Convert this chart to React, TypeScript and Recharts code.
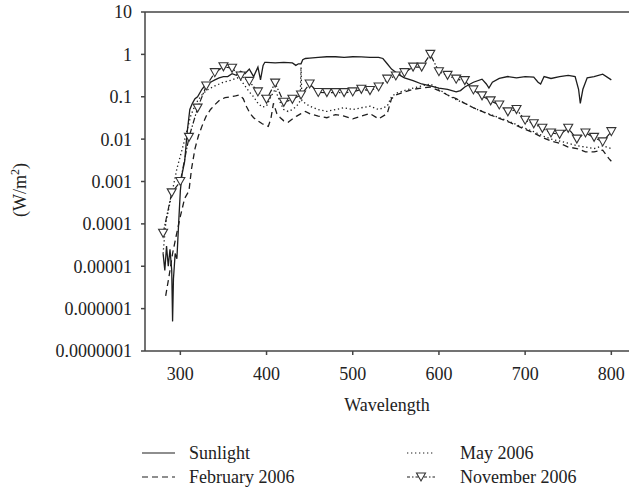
import { LineChart, Line, XAxis, YAxis, ReferenceLine } from "recharts";

// wavelengths (nm) and irradiance (W/m2)
const sunNm = [280, 282, 284, 286, 288, 290, 291, 292, 294, 296, 298, 300, 302, 305, 308, 311, 314, 317, 320, 325, 330, 335, 340, 345, 350, 355, 360, 365, 370, 375, 380, 385, 390, 393, 396, 398, 400, 410, 420, 430, 434, 437, 440, 442, 445, 450, 460, 470, 480, 490, 500, 510, 520, 530, 535, 540, 545, 550, 555, 560, 570, 580, 590, 600, 610, 620, 625, 630, 640, 650, 655, 658, 662, 670, 680, 690, 700, 710, 715, 718, 722, 730, 740, 750, 758, 762, 764, 767, 772, 780, 790, 800];
const sunW = [2e-5, 8e-6, 3e-5, 1e-5, 2.5e-5, 8e-6, 5e-7, 5e-6, 2e-5, 1.5e-5, 1e-4, 6e-4, 1.5e-3, 3e-3, 0.015, 0.05, 0.07, 0.09, 0.1, 0.15, 0.2, 0.22, 0.25, 0.28, 0.3, 0.3, 0.35, 0.32, 0.4, 0.35, 0.45, 0.3, 0.5, 0.25, 0.55, 0.65, 0.65, 0.63, 0.65, 0.63, 0.55, 0.6, 0.6, 0.75, 0.8, 0.82, 0.85, 0.88, 0.88, 0.85, 0.88, 0.87, 0.85, 0.85, 0.8, 0.6, 0.45, 0.38, 0.32, 0.28, 0.24, 0.2, 0.18, 0.16, 0.15, 0.13, 0.14, 0.17, 0.22, 0.26, 0.2, 0.16, 0.22, 0.27, 0.3, 0.28, 0.3, 0.29, 0.22, 0.2, 0.3, 0.27, 0.3, 0.32, 0.3, 0.15, 0.07, 0.15, 0.28, 0.3, 0.34, 0.25];

const febNm = [283, 287, 291, 295, 300, 305, 310, 313, 317, 321, 325, 330, 335, 340, 346, 352, 358, 364, 369, 373, 377, 381, 385, 389, 395, 402, 405, 408, 412, 416, 420, 425, 430, 435, 440, 445, 450, 460, 470, 480, 490, 500, 510, 520, 530, 540, 545, 550, 560, 570, 580, 590, 600, 610, 620, 630, 640, 650, 660, 670, 680, 690, 700, 710, 720, 730, 740, 750, 760, 770, 780, 790, 797, 800];
const febW = [2e-6, 6e-6, 2e-5, 5e-5, 1.5e-4, 4e-4, 6e-4, 2e-3, 6e-3, 0.012, 0.02, 0.035, 0.05, 0.065, 0.085, 0.095, 0.1, 0.105, 0.11, 0.09, 0.057, 0.04, 0.032, 0.028, 0.023, 0.02, 0.03, 0.07, 0.04, 0.032, 0.027, 0.025, 0.03, 0.035, 0.04, 0.045, 0.04, 0.035, 0.032, 0.038, 0.035, 0.03, 0.035, 0.04, 0.03, 0.04, 0.09, 0.11, 0.13, 0.15, 0.16, 0.17, 0.14, 0.11, 0.09, 0.07, 0.055, 0.045, 0.037, 0.031, 0.026, 0.021, 0.017, 0.014, 0.011, 0.009, 0.008, 0.0065, 0.006, 0.005, 0.005, 0.0055, 0.0035, 0.003];

const mayNm = [280, 283, 286, 290, 293, 296, 300, 304, 308, 312, 315, 320, 325, 330, 340, 350, 360, 366, 370, 375, 380, 385, 390, 395, 400, 405, 410, 415, 420, 425, 430, 435, 439, 440, 441, 445, 450, 460, 470, 480, 490, 500, 510, 520, 530, 540, 545, 550, 560, 570, 580, 590, 600, 610, 620, 630, 640, 650, 660, 670, 680, 690, 700, 710, 720, 730, 740, 750, 760, 770, 780, 790, 800];
const mayW = [2e-5, 1e-4, 2e-4, 5e-4, 1e-3, 2e-3, 4e-3, 0.008, 0.017, 0.035, 0.05, 0.08, 0.11, 0.14, 0.18, 0.22, 0.25, 0.28, 0.25, 0.18, 0.13, 0.1, 0.07, 0.057, 0.06, 0.1, 0.15, 0.08, 0.05, 0.045, 0.05, 0.06, 0.08, 0.5, 0.08, 0.07, 0.06, 0.05, 0.045, 0.05, 0.055, 0.05, 0.055, 0.06, 0.05, 0.06, 0.1, 0.12, 0.14, 0.16, 0.18, 0.2, 0.15, 0.11, 0.085, 0.07, 0.055, 0.045, 0.038, 0.032, 0.027, 0.022, 0.018, 0.015, 0.012, 0.01, 0.009, 0.008, 0.007, 0.0065, 0.006, 0.007, 0.006];

const novNm = [280, 290, 300, 310, 320, 330, 340, 350, 360, 370, 380, 390, 400, 410, 420, 430, 440, 450, 460, 470, 480, 490, 500, 510, 520, 530, 540, 550, 560, 570, 580, 590, 600, 610, 620, 630, 640, 650, 660, 670, 680, 690, 700, 710, 720, 730, 740, 750, 760, 770, 780, 790, 800];
const novW = [6e-5, 5.4e-4, 1e-3, 0.011, 0.054, 0.18, 0.37, 0.51, 0.47, 0.31, 0.23, 0.13, 0.087, 0.21, 0.074, 0.087, 0.11, 0.2, 0.126, 0.125, 0.125, 0.125, 0.13, 0.15, 0.14, 0.17, 0.26, 0.31, 0.37, 0.5, 0.5, 1.0, 0.39, 0.32, 0.26, 0.24, 0.145, 0.105, 0.08, 0.064, 0.044, 0.05, 0.028, 0.023, 0.018, 0.014, 0.013, 0.018, 0.01, 0.014, 0.011, 0.0086, 0.015];

const xTicks = [300, 400, 500, 600, 700, 800];
const yTicks = [0.0000001, 0.000001, 0.00001, 0.0001, 0.001, 0.01, 0.1, 1, 10];

const toRows = (nm: number[], w: number[]) => nm.map((x, i) => ({ nm: x, w: w[i] }));

const ink = "#1e1e1e";
const axisColor = "#444";
const font = "'Liberation Serif', serif";
const fs = 18;

const fmtY = (v: number) => (v >= 1 ? String(v) : v.toFixed(Math.round(-Math.log10(v))));

const Tri = (props: any) => {
  const { cx, cy } = props;
  if (cx == null || cy == null) return null;
  return (
    <path
      d={`M${cx - 4.5},${cy - 4} L${cx + 4.5},${cy - 4} L${cx},${cy + 4} Z`}
      fill="#fff"
      stroke="#333"
      strokeWidth={1.1}
    />
  );
};

function LegendItem({ x, y, w, dash, label, tri, gap }: { x: number; y: number; w: number; gap: number; dash?: string; label: string; tri?: boolean }) {
  return (
    <div style={{ position: "absolute", left: x, top: y, display: "flex", alignItems: "center" }}>
      <svg width={w} height={12}>
        <line x1={0} y1={6} x2={w} y2={6} stroke={ink} strokeWidth={1.2} strokeDasharray={dash} />
        {tri && <path d={`M${w / 2 - 4.5},2 L${w / 2 + 4.5},2 L${w / 2},10 Z`} fill="#fff" stroke="#333" strokeWidth={1.1} />}
      </svg>
      <span style={{ marginLeft: gap, fontFamily: font, fontSize: fs, color: "#222", lineHeight: "20px" }}>{label}</span>
    </div>
  );
}

export default function App() {
  return (
    <div style={{ position: "absolute", left: 0, top: 0, width: 629, height: 492, background: "#fff" }}>
      <LineChart width={629} height={492} margin={{ top: 12, right: 0, left: 0, bottom: 81 }}>
        <XAxis
          type="number"
          dataKey="nm"
          domain={[259, 820.5]}
          ticks={xTicks}
          allowDataOverflow
          stroke={axisColor}
          strokeWidth={1.5}
          tickSize={4}
          tickMargin={12}
          height={60}
          tick={{ fill: "#222", fontFamily: font, fontSize: fs }}
          label={{ value: "Wavelength", position: "insideBottom", offset: 0, fill: "#222", fontFamily: font, fontSize: fs }}
        />
        <YAxis
          type="number"
          dataKey="w"
          scale="log"
          domain={[0.0000001, 10]}
          ticks={yTicks}
          allowDataOverflow
          width={145}
          stroke={axisColor}
          strokeWidth={1.5}
          tickSize={4}
          tickMargin={9}
          tickFormatter={fmtY}
          tick={{ fill: "#222", fontFamily: font, fontSize: fs }}
          label={{
            content: () => (
              <text transform="rotate(-90, 26, 190)" x={26} y={190} textAnchor="middle" fontFamily={font} fontSize={fs} fill="#222">
                (W/m<tspan dy={-7} fontSize={12}>2</tspan>
                <tspan dy={7}>)</tspan>
              </text>
            ),
          }}
        />
        <ReferenceLine y={10} stroke={axisColor} strokeWidth={1.5} />
        <Line data={toRows(sunNm, sunW)} dataKey="w" stroke={ink} strokeWidth={1.3} dot={false} isAnimationActive={false} />
        <Line data={toRows(febNm, febW)} dataKey="w" stroke={ink} strokeWidth={1.3} strokeDasharray="6 4" dot={false} isAnimationActive={false} />
        <Line data={toRows(mayNm, mayW)} dataKey="w" stroke={ink} strokeWidth={1.3} strokeDasharray="1.3 2.7" dot={false} isAnimationActive={false} />
        <Line data={toRows(novNm, novW)} dataKey="w" stroke={ink} strokeWidth={1.2} strokeDasharray="6 2 1.5 2" dot={<Tri />} isAnimationActive={false} />
      </LineChart>
      <LegendItem x={142} y={443} w={33} gap={14} label="Sunlight" />
      <LegendItem x={142} y={467} w={33} gap={14} dash="6 4" label="February 2006" />
      <LegendItem x={407} y={443} w={28} gap={25} dash="1.3 2.7" label="May 2006" />
      <LegendItem x={407} y={467} w={28} gap={25} dash="3 2 1.5 2" tri label="November 2006" />
    </div>
  );
}
